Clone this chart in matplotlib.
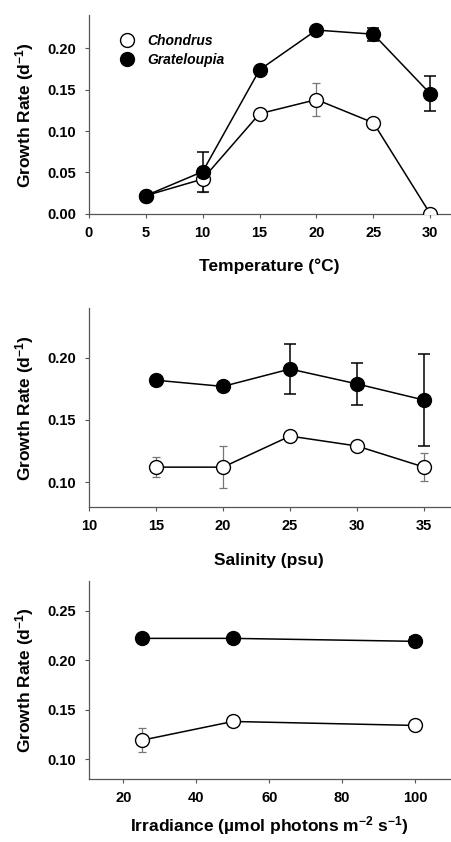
import matplotlib
matplotlib.use("Agg")
import matplotlib.pyplot as plt
import numpy as np

plt.rcParams['font.family'] = ['Liberation Sans', 'DejaVu Sans']
plt.rcParams['font.weight'] = 'bold'
plt.rcParams['mathtext.fontset'] = 'custom'
plt.rcParams['mathtext.rm'] = 'Liberation Sans:bold'
plt.rcParams['mathtext.bf'] = 'Liberation Sans:bold'
plt.rcParams['mathtext.default'] = 'bf'

# temperature panel
temp = [5, 10, 15, 20, 25, 30]
temp_chon = [0.022, 0.042, 0.121, 0.138, 0.110, 0.000]
temp_chon_err = [0.0, 0.015, 0.0, 0.020, 0.0, 0.0]
temp_grat = [0.022, 0.051, 0.174, 0.222, 0.217, 0.145]
temp_grat_err = [0.0, 0.024, 0.0, 0.0, 0.008, 0.021]

# salinity panel
sal = [15, 20, 25, 30, 35]
sal_chon = [0.112, 0.112, 0.137, 0.129, 0.112]
sal_chon_err = [0.008, 0.017, 0.0, 0.0, 0.011]
sal_grat = [0.182, 0.177, 0.191, 0.179, 0.166]
sal_grat_err = [0.0, 0.0, 0.020, 0.017, 0.037]

# irradiance panel
irr = [25, 50, 100]
irr_chon = [0.119, 0.138, 0.134]
irr_chon_err = [0.012, 0.0, 0.0]
irr_grat = [0.222, 0.222, 0.219]
irr_grat_err = [0.0, 0.0, 0.004]

fig = plt.figure(figsize=(4.51, 8.42), dpi=100)

boxes = [[0.197, 0.746, 0.80, 0.236],
         [0.197, 0.398, 0.80, 0.236],
         [0.197, 0.075, 0.80, 0.235]]

panels = [
    (temp, temp_chon, temp_chon_err, temp_grat, temp_grat_err,
     (0, 31.7), (0, 0.24), [0, 5, 10, 15, 20, 25, 30],
     [0.00, 0.05, 0.10, 0.15, 0.20], 'Temperature (°C)', 13),
    (sal, sal_chon, sal_chon_err, sal_grat, sal_grat_err,
     (10, 36.9), (0.08, 0.24), [10, 15, 20, 25, 30, 35],
     [0.10, 0.15, 0.20], 'Salinity (psu)', 14),
    (irr, irr_chon, irr_chon_err, irr_grat, irr_grat_err,
     (10.5, 109.5), (0.08, 0.28), [20, 40, 60, 80, 100],
     [0.10, 0.15, 0.20, 0.25], r'Irradiance (µmol photons m$^{-2}$ s$^{-1}$)', 6),
]

axes = []
for box, p in zip(boxes, panels):
    x, yc, ec, yg, eg, xl, yl, xt, yt, xlab, lpad = p
    ax = fig.add_axes(box)
    axes.append(ax)
    ax.errorbar(x, yc, yerr=np.array(ec), fmt='none', ecolor='#777777', elinewidth=0.9,
                capsize=3, capthick=0.9, zorder=2)
    ax.errorbar(x, yg, yerr=np.array(eg), fmt='none', ecolor='black', elinewidth=1.1,
                capsize=4, capthick=1.1, zorder=2)
    ax.plot(x, yc, '-o', color='black', lw=1.1, ms=10, mfc='white', mec='black',
            mew=1.0, label='Chondrus', zorder=3)
    ax.plot(x, yg, '-o', color='black', lw=1.1, ms=10, mfc='black', mec='black',
            mew=1.0, label='Grateloupia', zorder=4)
    ax.set_xlim(*xl)
    ax.set_ylim(*yl)
    ax.set_xticks(xt)
    ax.set_yticks(yt)
    ax.set_yticklabels(['%.2f' % v for v in yt], fontsize=10.5, fontweight='bold')
    ax.set_xticklabels(['%d' % v for v in xt], fontsize=10.5, fontweight='bold')
    for s in ['top', 'right']:
        ax.spines[s].set_visible(False)
    for s in ['left', 'bottom']:
        ax.spines[s].set_color('#555555')
        ax.spines[s].set_linewidth(0.9)
    ax.tick_params(direction='out', length=3, width=0.8, color='#555555', pad=6)
    ax.set_ylabel(r'Growth Rate (d$^{-1}$)', fontsize=12.5, fontweight='bold', labelpad=8)
    ax.set_xlabel(xlab, fontsize=12.5, fontweight='bold', labelpad=lpad)

leg = axes[0].legend(loc='upper left', bbox_to_anchor=(0.07, 0.97), frameon=False,
                     handlelength=0, handletextpad=1.5, labelspacing=0.4,
                     prop={'style': 'italic', 'weight': 'bold', 'size': 10})

fig.savefig('out.png', dpi=100)
